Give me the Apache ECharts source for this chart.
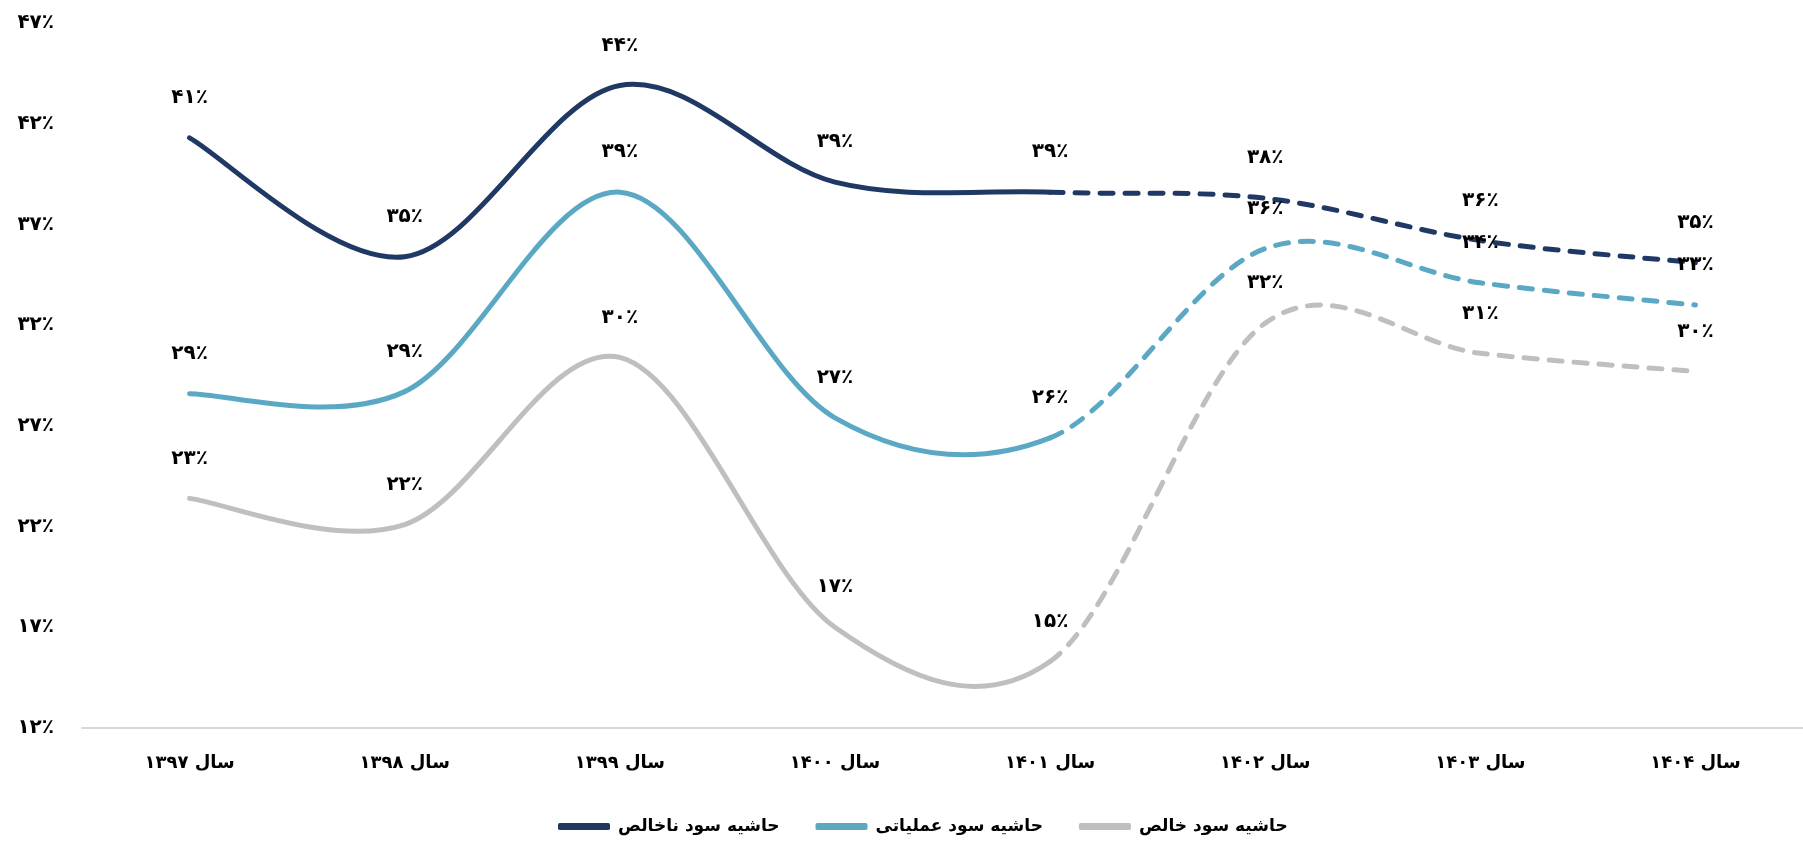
<!DOCTYPE html>
<html>
<head>
<meta charset="utf-8">
<script src="https://cdn.jsdelivr.net/npm/echarts@6/dist/echarts.min.js"></script>
<style>
html,body{margin:0;padding:0;background:#fff;}
#chart{width:1803px;height:842px;}
</style>
</head>
<body>
<div id="chart"></div>
<script>
const categories = ['سال ۱۳۹۷','سال ۱۳۹۸','سال ۱۳۹۹','سال ۱۴۰۰','سال ۱۴۰۱','سال ۱۴۰۲','سال ۱۴۰۳','سال ۱۴۰۴'];
const grossMargin = [41.3, 35.4, 43.9, 39.1, 38.6, 38.3, 36.2, 35.1];
const operatingMargin = [28.6, 28.7, 38.6, 27.4, 26.4, 35.8, 34.1, 33.0];
const netMargin = [23.4, 22.1, 30.4, 17.0, 15.3, 32.1, 30.6, 29.7];
const seriesNames = ['حاشیه سود ناخالص','حاشیه سود عملیاتی','حاشیه سود خالص'];
const colors = ['#203864','#5BA8C5','#BFBFBF'];
const lastActualIndex = 4; // 1397..1401 solid, 1401..1404 dashed (forecast)

const fa = n => String(n).replace(/\d/g, d => '۰۱۲۳۴۵۶۷۸۹'[d]);
const pct = v => fa(Math.round(v)) + '٪';
const FONT = '"DejaVu Sans", sans-serif';

function makeSeries(name, values, color) {
  return {
    name, type: 'custom', coordinateSystem: 'cartesian2d',
    color, itemStyle: { color },
    data: [[0, values[0]]],
    encode: { x: 0, y: 1 },
    clip: false,
    z: 3,
    renderItem: function (params, api) {
      const pts = values.map((v, i) => api.coord([i, v]));
      const P = i => pts[Math.max(0, Math.min(pts.length - 1, i))];
      const segPath = (from, to) => {
        let d = 'M' + P(from)[0] + ' ' + P(from)[1];
        for (let i = from; i < to; i++) {
          const p0 = P(i - 1), p1 = P(i), p2 = P(i + 1), p3 = P(i + 2);
          const c1x = p1[0] + (p2[0] - p0[0]) / 6, c1y = p1[1] + (p2[1] - p0[1]) / 6;
          const c2x = p2[0] - (p3[0] - p1[0]) / 6, c2y = p2[1] - (p3[1] - p1[1]) / 6;
          d += ' C' + c1x + ' ' + c1y + ' ' + c2x + ' ' + c2y + ' ' + p2[0] + ' ' + p2[1];
        }
        return d;
      };
      const children = [
        { type: 'path', shape: { pathData: segPath(0, lastActualIndex) },
          style: { stroke: color, fill: null, lineWidth: 5, lineCap: 'round', lineJoin: 'round' } },
        { type: 'path', shape: { pathData: segPath(lastActualIndex, values.length - 1) },
          style: { stroke: color, fill: null, lineWidth: 5, lineCap: 'round', lineDash: [13, 12] } }
      ];
      values.forEach((v, i) => {
        children.push({
          type: 'text',
          style: {
            text: pct(v), x: pts[i][0], y: pts[i][1] - 40,
            align: 'center', verticalAlign: 'middle',
            font: 'bold 20px ' + FONT, fill: '#000'
          },
          z2: 10
        });
      });
      return { type: 'group', children };
    }
  };
}

const chart = echarts.init(document.getElementById('chart'));
chart.setOption({
  animation: false,
  backgroundColor: '#fff',
  grid: { left: 82, right: 0, top: 23, bottom: 114 },
  xAxis: {
    type: 'category', data: categories, boundaryGap: true,
    axisLine: { lineStyle: { color: '#D9D9D9', width: 2 } },
    axisTick: { show: false },
    axisLabel: { fontFamily: FONT, fontSize: 18, fontWeight: 'bold', color: '#000', margin: 26 }
  },
  yAxis: {
    type: 'value', min: 12, max: 47, interval: 5,
    splitLine: { show: false }, axisLine: { show: false }, axisTick: { show: false },
    axisLabel: { fontFamily: FONT, fontSize: 20, fontWeight: 'bold', color: '#000', margin: 28,
      padding: [0, 0, 12, 0], formatter: v => pct(v) }
  },
  legend: {
    data: seriesNames.map((n, i) => ({ name: n, itemStyle: { color: colors[i], borderWidth: 0 } })),
    left: 553, top: 813, icon: 'roundRect', itemWidth: 52, itemHeight: 7, itemGap: 36,
    textStyle: { fontFamily: FONT, fontSize: 17, fontWeight: 'bold', color: '#000', padding: [0, 0, 0, 3] }
  },
  series: [
    makeSeries(seriesNames[0], grossMargin, colors[0]),
    makeSeries(seriesNames[1], operatingMargin, colors[1]),
    makeSeries(seriesNames[2], netMargin, colors[2])
  ]
});
</script>
</body>
</html>
